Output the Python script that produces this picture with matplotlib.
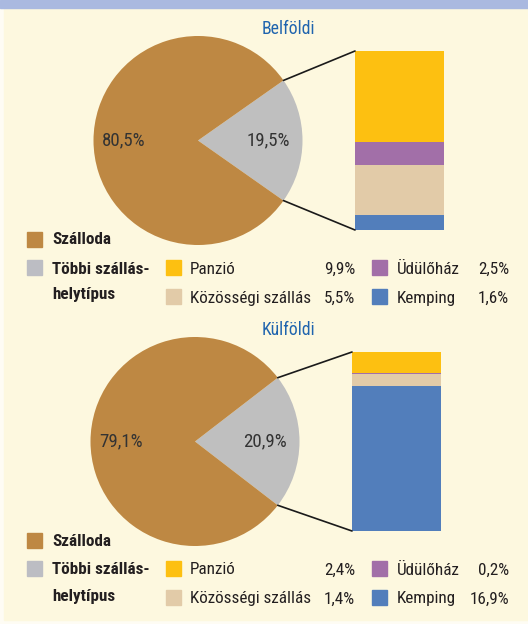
import matplotlib.pyplot as plt
import matplotlib.font_manager as fm
from matplotlib.patches import Rectangle, ConnectionPatch
import numpy as np


def narrow_family():
    # look for an installed condensed face, else use a plain narrow-ish sans
    found = {}
    for f in fm.fontManager.ttflist:
        st = f.stretch
        cond = st in ('condensed', 'semi-condensed', 'extra-condensed') if isinstance(st, str) else st < 500
        if cond or 'Condensed' in f.name or 'Narrow' in f.name:
            found.setdefault(f.name, set()).add(f.weight)
    for name in ['Noto Sans Condensed', 'Roboto Condensed', 'Open Sans Condensed',
                 'Liberation Sans Narrow', 'Noto Sans', 'Open Sans', 'Roboto']:
        if name in found:
            return name, True
    return 'Roboto', False


family, condensed = narrow_family()
plt.rcParams['font.family'] = [family, 'DejaVu Sans']
if condensed:
    plt.rcParams['font.stretch'] = 'condensed'
FS = 12.3 if condensed else 10

# shares of guest nights by accommodation type (%)
titles = ['Belföldi', 'Külföldi']
hotel_share = [80.5, 79.1]
other_share = [19.5, 20.9]
sub_labels = ['Panzió', 'Üdülőház', 'Közösségi szállás', 'Kemping']
sub_values = [[9.9, 2.5, 5.5, 1.6],
              [2.4, 0.2, 1.4, 16.9]]

c_hotel = '#BE8843'
c_other = '#BFBFBF'
c_other_key = '#BCBDC3'
sub_colors = ['#FDC011', '#A26FA8', '#E2CBA8', '#527EBB']
bg = '#FDF8DF'
title_color = '#1F64AE'
text_color = '#231F20'
pct_color = '#333333'

W, H = 528, 624
fig = plt.figure(figsize=(W / 100, H / 100), dpi=100, facecolor='#FEFCF4')
ax = fig.add_axes([0, 0, 1, 1])
ax.set_xlim(0, W)
ax.set_ylim(H, 0)
ax.axis('off')

ax.add_patch(Rectangle((4, 0), W - 4, 620, color=bg, zorder=0))
ax.add_patch(Rectangle((0, 0), W, 8, color='#AAB9E0', zorder=1))


def fmt(v):
    return f'{v:.1f}%'.replace('.', ',')


def key(x, y, color):
    ax.add_patch(Rectangle((x, y - 8), 15, 15, color=color, zorder=2))


def panel(i, dy, cx, bx):
    cy = 140.5 + dy
    r = 104.5
    ax.text(288, 29 + dy, titles[i], color=title_color, fontsize=FS + 0.5,
            ha='center', va='center')

    # pie in its own equal-aspect axes
    pax = fig.add_axes([(cx - r) / W, 1 - (cy + r) / H, 2 * r / W, 2 * r / H])
    half = other_share[i] * 3.6 / 2
    pax.pie([other_share[i], hotel_share[i]], colors=[c_other, c_hotel],
            startangle=-half, counterclock=True, radius=1,
            wedgeprops=dict(linewidth=0))
    pax.set_xlim(-1, 1)
    pax.set_ylim(-1, 1)
    pax.axis('off')
    pax.text(0.67, 0, fmt(other_share[i]), ha='center', va='center',
             fontsize=FS + 1.3, color=pct_color)
    pax.text(-0.71, 0, fmt(hotel_share[i]), ha='center', va='center',
             fontsize=FS + 1.3, color=pct_color)

    # stacked bar of the other accommodation types
    vals = sub_values[i]
    total = sum(vals)
    bax = fig.add_axes([bx / W, 1 - (51 + dy + 179) / H, 89 / W, 179 / H])
    top = total
    for lab, v, c in zip(sub_labels, vals, sub_colors):
        bax.bar(0, v, bottom=top - v, width=1, color=c, linewidth=0)
        top -= v
    bax.set_xlim(-0.5, 0.5)
    bax.set_ylim(0, total)
    bax.axis('off')

    # connector lines from wedge edges to bar corners
    a = np.deg2rad(half)
    for sgn, by in [(1, total), (-1, 0)]:
        con = ConnectionPatch(xyA=(np.cos(a), sgn * np.sin(a)), coordsA=pax.transData,
                              xyB=(-0.5, by), coordsB=bax.transData,
                              color='#1A1A1A', linewidth=1.2)
        fig.add_artist(con)

    # legend
    key(27, 240 + dy, c_hotel)
    ax.text(52, 240 + dy, 'Szálloda', fontsize=FS, fontweight='bold',
            color=text_color, va='center')
    key(27, 268 + dy, c_other_key)
    ax.text(52, 269 + dy, 'Többi szállás-', fontsize=FS, fontweight='bold',
            color=text_color, va='center')
    ax.text(52, 295 + dy, 'helytípus', fontsize=FS, fontweight='bold',
            color=text_color, va='center')

    rows = [(0, 268), (2, 297), (1, 268), (3, 297)]
    cols = [(166, 190, 355), (166, 190, 355), (372, 397, 509), (372, 397, 509)]
    for (k, ry), (kx, tx, vx) in zip(rows, cols):
        key(kx, ry + dy, sub_colors[k])
        ax.text(tx, ry + 1 + dy, sub_labels[k], fontsize=FS, color=text_color,
                va='center')
        ax.text(vx, ry + 1 + dy, fmt(vals[k]), fontsize=FS, color=text_color,
                va='center', ha='right')


panel(0, 0, 198, 355)
panel(1, 301, 195, 352)

fig.savefig('out.png', dpi=100, facecolor=fig.get_facecolor())
